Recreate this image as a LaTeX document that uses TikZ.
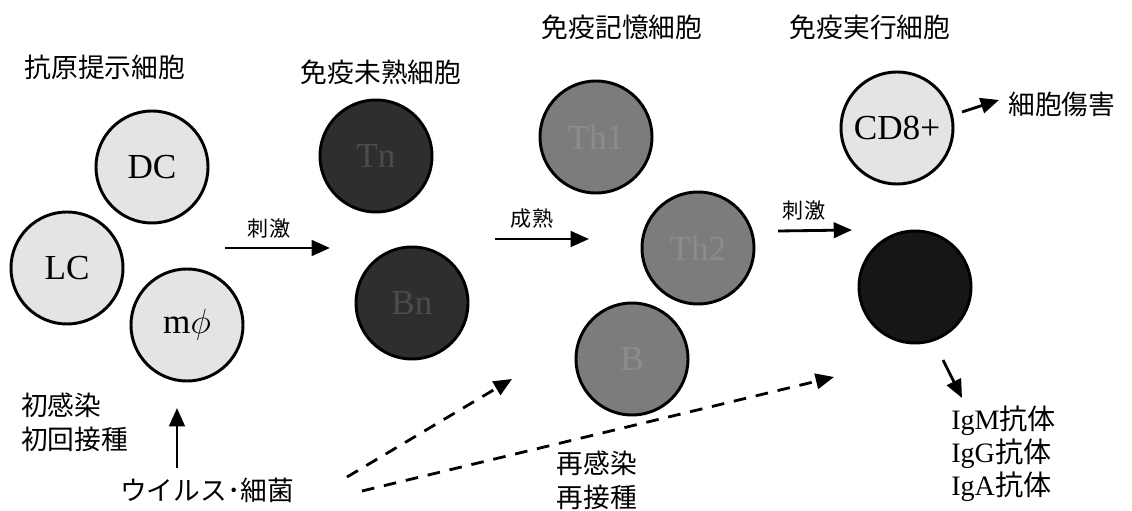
\documentclass[tikz,border=0pt]{standalone}
\usepackage{fontspec}
\setmainfont{Liberation Serif}
\newfontfamily\jp{Noto Sans CJK JP}
\usetikzlibrary{arrows.meta}
\definecolor{lightcell}{HTML}{E4E4E4}
\definecolor{naivecell}{HTML}{2E2E2E}
\definecolor{memcell}{HTML}{7C7C7C}
\definecolor{effcell}{HTML}{161616}
\tikzset{
  cell/.style={circle, draw=black, line width=2.1pt, minimum size=2.8cm, inner sep=0pt, font=\fontsize{25}{25}\selectfont},
  hdr/.style={font=\jp\fontsize{19}{21}\selectfont, inner sep=0pt},
  lbl/.style={font=\jp\fontsize{15}{17}\selectfont, inner sep=0pt},
  arr/.style={line width=2pt, -{Triangle[length=13pt,width=11pt]}},
  darr/.style={line width=2pt, dash pattern=on 9pt off 7pt, -{Triangle[length=13pt,width=11pt]}},
}
\begin{document}
\begin{tikzpicture}[x=0.025cm,y=-0.025cm]
\useasboundingbox (0,0) rectangle (1132,511);
% cells
\node[cell, fill=lightcell] (dc) at (152,167) {DC};
\node[cell, fill=lightcell] (lc) at (67,268) {LC};
\node[cell, fill=lightcell] (mphi) at (187,325) {m$\phi$};
\node[cell, fill=naivecell, text=black!70] (tn) at (376,156) {Tn};
\node[cell, fill=naivecell, text=black!70] (bn) at (412,303) {Bn};
\node[cell, fill=memcell, text=black!45] (th1) at (596,137) {Th1};
\node[cell, fill=memcell, text=black!45] (th2) at (698,248) {Th2};
\node[cell, fill=memcell, text=black!45] (b) at (632,359) {B};
\node[cell, fill=lightcell] (cd8) at (897,128) {CD8+};
\node[cell, fill=effcell] (eff) at (915,287) {};
% headers
\node[hdr] (h1) at (105,67) {抗原提示細胞};
\node[hdr] (h2) at (381,72) {免疫未熟細胞};
\node[hdr] (h3) at (622,27) {免疫記憶細胞};
\node[hdr] (h4) at (870,27) {免疫実行細胞};
% labels
\node[lbl] (s1) at (269,229) {刺激};
\node[lbl] (s2) at (532,219) {成熟};
\node[lbl] (s3) at (804,211) {刺激};
\node[hdr, anchor=west] (cyto) at (1008,104) {細胞傷害};
\node[hdr, anchor=west] (first1) at (21,405) {初感染};
\node[hdr, anchor=west] (first2) at (21,439) {初回接種};
\node[hdr] (virus) at (207,490) {ウイルス･細菌};
\node[hdr] (re1) at (597,463) {再感染};
\node[hdr] (re2) at (597,497) {再接種};
\node[anchor=west, inner sep=0pt, font=\fontsize{20}{22}\selectfont] (igm) at (951,421) {IgM{\jp 抗体}};
\node[anchor=west, inner sep=0pt, font=\fontsize{20}{22}\selectfont] (igg) at (951,454) {IgG{\jp 抗体}};
\node[anchor=west, inner sep=0pt, font=\fontsize{20}{22}\selectfont] (iga) at (951,487) {IgA{\jp 抗体}};
% arrow end points
\coordinate (a1s) at (225,248); \coordinate (a1e) at (330,248);
\coordinate (a2s) at (495,239); \coordinate (a2e) at (589,239);
\coordinate (a3s) at (778,231); \coordinate (a3e) at (852,230);
\coordinate (a4s) at (962,112); \coordinate (a4e) at (999,100);
\coordinate (a5s) at (177,468); \coordinate (a5e) at (177,408);
\coordinate (a6s) at (943,360); \coordinate (a6e) at (962,398);
\coordinate (d1s) at (347,477); \coordinate (d1e) at (512,379);
\coordinate (d2s) at (362,491); \coordinate (d2e) at (834,377);
\draw[arr] (a1s) -- (a1e);
\draw[arr] (a2s) -- (a2e);
\draw[arr] (a3s) -- (a3e);
\draw[arr] (a4s) -- (a4e);
\draw[arr] (a5s) -- (a5e);
\draw[arr] (a6s) -- (a6e);
\draw[darr] (d1s) -- (d1e);
\draw[darr] (d2s) -- (d2e);
\end{tikzpicture}
\end{document}
